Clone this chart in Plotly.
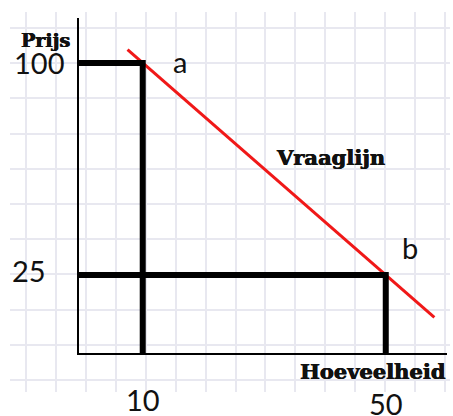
import plotly.graph_objects as go

# ---- data ----
punt_labels = ["a", "b"]
hoeveelheid = [10, 50]          # quantity at points a, b
prijs = [100, 25]               # price at points a, b
vraag_q = [7.5, 58]             # demand line ends (quantity)
vraag_p = [104.7, 10]           # demand line ends (price)
x_tick_labels = ["10", "50"]
y_tick_labels = ["100", "25"]

W, H = 453, 416
X_RANGE = [-0.49, 60.08]
Y_RANGE = [-2.58, 115.9]

fig = go.Figure()

# background grid subplot (graph paper)
fig.add_trace(go.Scatter(x=[], y=[], xaxis="x", yaxis="y", showlegend=False, hoverinfo="skip"))

# demand line
fig.add_trace(go.Scatter(x=vraag_q, y=vraag_p, mode="lines", xaxis="x2", yaxis="y2",
                         line=dict(color="#f01818", width=3), showlegend=False, hoverinfo="skip"))

# guide lines from axes to points a and b
for q, p in zip(hoeveelheid, prijs):
    fig.add_trace(go.Scatter(x=[X_RANGE[0], q, q], y=[p, p, Y_RANGE[0]], mode="lines",
                             xaxis="x2", yaxis="y2", line=dict(color="black", width=6),
                             showlegend=False, hoverinfo="skip"))

num_font = dict(family="Lato", size=29, color="#111111")
heavy = "0.5px 0 0 #111111, -0.3px 0 0 #111111"


def slab(size):
    return dict(family="DejaVu Serif", size=size, color="#111111", weight="bold", shadow=heavy)


ann = []
# y labels
for lab, p, xr, dy in zip(y_tick_labels, prijs, [66, 48], [0, 5]):
    ann.append(dict(text=lab, x=xr / W, xref="paper", y=p, yref="y2", yshift=dy,
                    xanchor="right", yanchor="middle", showarrow=False, font=num_font))
# x labels
for lab, q, yc in zip(x_tick_labels, hoeveelheid, [399, 403]):
    ann.append(dict(text=lab, x=q, xref="x2", y=1 - yc / H, yref="paper", xanchor="center",
                    yanchor="middle", showarrow=False, font=num_font))
# point labels
for lab, q, p, dx, dy in zip(punt_labels, hoeveelheid, prijs, [37, 24], [1, 28]):
    ann.append(dict(text=lab, x=q, xref="x2", y=p, yref="y2", xshift=dx, yshift=dy,
                    xanchor="center", yanchor="middle", showarrow=False, font=num_font))
for lab, xc, yc, sz in [("Prijs", 45, 40, 19), ("Hoeveelheid", 373, 371, 21),
                        ("Vraaglijn", 330, 157, 21)]:
    ann.append(dict(text=lab, x=xc / W, y=1 - yc / H, xref="paper", yref="paper",
                    xanchor="center", yanchor="middle", showarrow=False, font=slab(sz)))

grid = dict(showgrid=True, gridcolor="#e8e8f0", gridwidth=2, showticklabels=False,
            zeroline=False, showline=False, ticks="")
plain = dict(showgrid=False, zeroline=False, showticklabels=False, ticks="",
             showline=True, linecolor="black", linewidth=2)

fig.update_layout(
    width=W, height=H, margin=dict(l=0, r=0, t=0, b=0),
    paper_bgcolor="white", plot_bgcolor="rgba(0,0,0,0)",
    xaxis=dict(domain=[10 / W, 450 / W], range=[10, 450], tick0=26, dtick=29.93, **grid),
    yaxis=dict(domain=[1 - 392 / H, 1 - 12 / H], range=[392, 12], tick0=28, dtick=35.2, **grid),
    xaxis2=dict(domain=[79 / W, 447 / W], range=X_RANGE, anchor="y2", **plain),
    yaxis2=dict(domain=[1 - 353 / H, 1 - 18 / H], range=Y_RANGE, anchor="x2", **plain),
    annotations=ann,
)

fig.write_html("out.html", config={"displayModeBar": False},
               post_script="document.body.style.margin='0';document.body.style.overflow='hidden';")
